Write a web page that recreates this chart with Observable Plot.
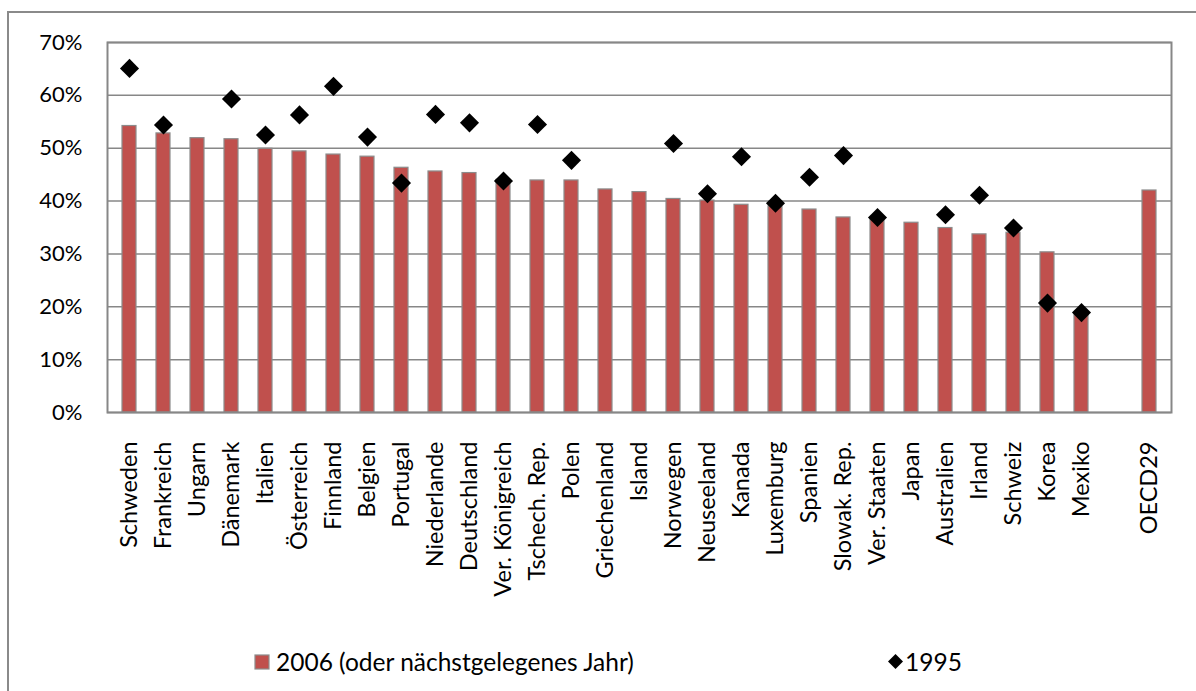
<!DOCTYPE html>
<html>
<head>
<meta charset="utf-8">
<script src="https://cdn.jsdelivr.net/npm/d3@7"></script>
<script src="https://cdn.jsdelivr.net/npm/@observablehq/plot@0.6"></script>
<style>
  html, body { margin: 0; padding: 0; background: #fff; overflow: hidden; width: 1196px; height: 691px; }
  #frame { position: absolute; left: 7px; top: 11px; width: 1400px; height: 900px; border: 2px solid #8a8a8a; box-sizing: border-box; }
  #chart { position: absolute; left: 0; top: 0; }
  .leg { position: absolute; top: 647px; font-family: Lato, sans-serif; font-size: 24.5px; color: #000; display: flex; align-items: center; white-space: nowrap; }
</style>
</head>
<body>
<div id="frame"></div>
<div id="chart"></div>
<div class="leg" style="left:254px;"><svg width="16" height="16" style="margin-right:6px"><rect x="1" y="1" width="14" height="14" fill="#C0504D" stroke="#8c8c8c" stroke-width="1.2"/></svg><span id="leg1"></span></div>
<div class="leg" style="left:887px;"><svg width="17" height="17" style="margin-right:1px"><polygon points="8.5,1 16,8.5 8.5,16 1,8.5" fill="#000"/></svg><span id="leg2"></span></div>
<script>
const countries = ["Schweden","Frankreich","Ungarn","Dänemark","Italien","Österreich","Finnland","Belgien","Portugal","Niederlande","Deutschland","Ver. Königreich","Tschech. Rep.","Polen","Griechenland","Island","Norwegen","Neuseeland","Kanada","Luxemburg","Spanien","Slowak. Rep.","Ver. Staaten","Japan","Australien","Irland","Schweiz","Korea","Mexiko","OECD29"];
const values2006 = [54.2,52.8,51.9,51.7,49.9,49.4,48.8,48.4,46.3,45.6,45.3,44.0,43.9,43.9,42.2,41.7,40.4,40.1,39.3,39.0,38.4,36.9,36.6,35.9,34.9,33.7,34.0,30.3,18.6,42.0];
const values1995 = [65.1,54.4,null,59.3,52.5,56.3,61.7,52.1,43.4,56.4,54.8,43.8,54.5,47.7,null,null,50.9,41.4,48.4,39.6,44.5,48.6,36.9,null,37.4,41.1,34.9,20.7,18.9,null];
const yTicks = [0,10,20,30,40,50,60,70];
const seriesNames = ["2006 (oder nächstgelegenes Jahr)", "1995"];

document.getElementById("leg1").textContent = seriesNames[0];
document.getElementById("leg2").textContent = seriesNames[1];

const bars = countries.map((c, i) => ({country: c, value: values2006[i]}));
const dots = countries.map((c, i) => ({country: c, value: values1995[i]})).filter(d => d.value != null);
// gap slot between the country list and the OECD average
const xDomain = [...countries.slice(0, countries.length - 1), "\u00a0", countries[countries.length - 1]];

const W = 1196, H = 600;
const chart = Plot.plot({
  width: W,
  height: H,
  marginLeft: 107,
  marginRight: 25,
  marginTop: 42,
  marginBottom: H - 412,
  style: {fontFamily: "Lato, sans-serif", fontSize: "22px", color: "#000", background: "transparent"},
  x: {domain: xDomain, padding: 0, label: null},
  y: {domain: [0, 70], label: null},
  marks: [
    Plot.gridY(yTicks, {stroke: "#878787", strokeOpacity: 1, strokeWidth: 1.5}),
    Plot.barY(bars, {x: "country", y: "value", fill: "#C0504D", stroke: "#8c8c8c", strokeWidth: 1.2, insetLeft: 10, insetRight: 10}),
    Plot.dot(dots, {x: "country", y: "value", symbol: "diamond2", r: 8.6, fill: "#000", stroke: "none"}),
    Plot.frame({stroke: "#878787", strokeWidth: 2}),
    Plot.axisY({ticks: yTicks, tickFormat: d => d + "%", tickSize: 0, tickPadding: 25, label: null, fill: "#000", fontSize: 22}),
    Plot.axisX({tickRotate: -90, tickSize: 0, tickPadding: 29, label: null, fill: "#000", fontSize: 23.5, tickFormat: d => d})
  ]
});
document.getElementById("chart").appendChild(chart);
</script>
</body>
</html>
